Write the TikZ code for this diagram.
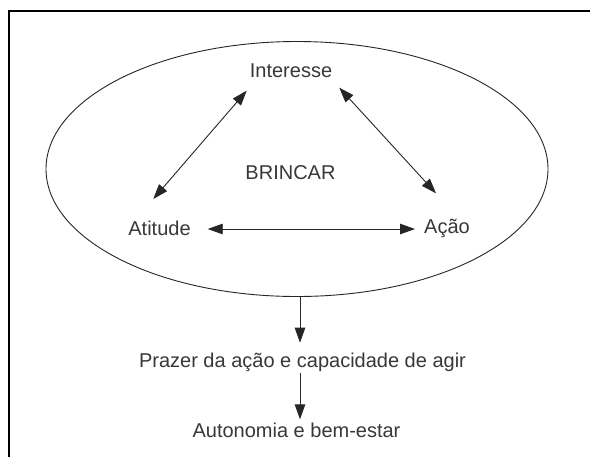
\documentclass[tikz,border=0pt]{standalone}
\usepackage{fontspec}
\setmainfont{Liberation Sans}
\usetikzlibrary{arrows.meta,shapes.geometric}
\definecolor{txt}{rgb}{0.22,0.22,0.22}
\tikzset{
  lbl/.style={inner sep=0pt, text=txt, font=\fontsize{20}{24}\selectfont},
  conn/.style={line width=0.9pt, draw=black!85, -{Triangle[length=15pt,width=10.5pt]}},
  biconn/.style={line width=0.9pt, draw=black!85, {Triangle[length=15pt,width=10.5pt]}-{Triangle[length=15pt,width=10.5pt]}},
}
\begin{document}
\begin{tikzpicture}[x=1pt,y=-1pt]
\useasboundingbox (0,0) rectangle (590,456);
\fill[white] (0,0) rectangle (590,456);
% frame
\draw[line width=2pt, black] (9,457) -- (9,11) -- (591,11);
% ellipse
\node (ell) [ellipse, draw=black!85, line width=0.9pt, minimum width=502pt, minimum height=255pt, inner sep=0pt] at (297,169) {};
\coordinate (ellbot) at (300,296.7);
% labels
\node (int) [lbl] at (291,71) {Interesse};
\node (brin) [lbl] at (290.5,173) {BRINCAR};
\node (ati) [lbl] at (159.5,228) {Atitude};
\node (aca) [lbl] at (447,228) {Ação};
\node (praz) [lbl] at (302.5,362) {Prazer da ação e capacidade de agir};
\node (auto) [lbl] at (296.5,430) {Autonomia e bem-estar};
% connectors
\coordinate (a1) at (246.7,90.7);
\coordinate (a2) at (153.3,199);
\draw[biconn] (a2) -- (a1);
\coordinate (b1) at (339.3,87.7);
\coordinate (b2) at (436,193.3);
\draw[biconn] (b1) -- (b2);
\coordinate (c1) at (207.7,229);
\coordinate (c2) at (415,229);
\draw[biconn] (c1) -- (c2);
\coordinate (d2) at (300,342.7);
\draw[conn] (ellbot) -- (d2);
\coordinate (e1) at (300,373);
\coordinate (e2) at (300,419.3);
\draw[conn] (e1) -- (e2);
\end{tikzpicture}
\end{document}
